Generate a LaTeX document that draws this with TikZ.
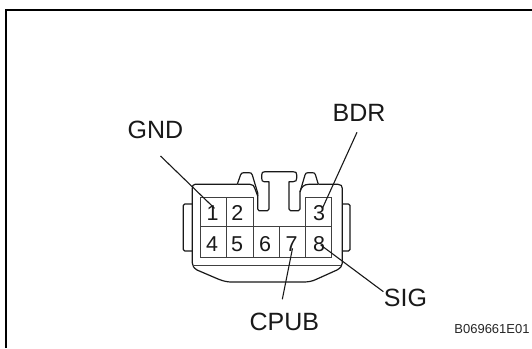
\documentclass[tikz,border=0pt]{standalone}
\usepackage{fontspec}
\setmainfont{Liberation Sans}
\tikzset{
  body/.style={draw=black!90,line width=1.2pt,line join=round},
  gridline/.style={draw=black!75,line width=0.8pt},
  leader/.style={draw=black!90,line width=1.1pt},
  sig/.style={font=\fontsize{25}{25}\selectfont,inner sep=0pt,text=black!90},
  pin/.style={font=\fontsize{21.5}{21.5}\selectfont,inner sep=0pt,text=black!90},
  code/.style={font=\fontsize{13}{13}\selectfont,inner sep=0pt,text=black!85}
}
\begin{document}
\begin{tikzpicture}[x=1pt,y=-1pt]
\useasboundingbox (0,0) rectangle (532,348);
\draw[black,line width=1.8pt] (6,348) -- (6,10) -- (532,10);
% tabs
\draw[body] (192.3,204) [rounded corners=1.5pt] -- (183.3,204) -- (183.3,251) -- (192.3,251);
\draw[body] (342.3,204) [rounded corners=1.5pt] -- (350,204) -- (350,251) -- (342.3,251);
% housing
\draw[body] (237.3,184.3) -- (195,184.3)
  .. controls (193,184.3) and (192.3,186) .. (192.3,188.3)
  -- (192.3,263)
  .. controls (192.3,266) and (194,268) .. (197,270)
  -- (218,279) .. controls (224,281.5) and (228,282) .. (232,282)
  -- (303,282) .. controls (308,282) and (312,281.5) .. (317,279)
  -- (337,270) .. controls (340.5,268) and (342.3,266) .. (342.3,263)
  -- (342.3,188.3) .. controls (342.3,186) and (341,184.3) .. (338,184.3)
  -- (318.3,184.3);
% lip
\draw[gridline] (194,265.7) -- (341,265.7);
% pin grid
\draw[gridline] (200.7,197.3) -- (253,197.3) -- (253,257);
\draw[gridline] (305.7,257) -- (305.7,197.3) -- (331.7,197.3) -- (331.7,257) -- (200.7,257) -- (200.7,197.3);
\draw[gridline] (200.7,226.3) -- (331.7,226.3);
\draw[gridline] (226.7,197.3) -- (226.7,257);
\draw[gridline] (279.3,226.3) -- (279.3,257);
% left hook, T slot, right hook
\draw[body,fill=white] (237.3,184.3) -- (240.5,175) .. controls (241.2,173.2) and (242,172.7) .. (244,172.7)
  -- (249,172.7) .. controls (251,172.7) and (251.7,173.2) .. (252.3,175)
  -- (257.7,193) -- (257.7,209) .. controls (257.7,210.3) and (258,210.7) .. (259,210.7)
  -- (267.5,210.7) .. controls (268.7,210.7) and (269,210.3) .. (269,209)
  -- (269,181.7) -- (264,181.7) .. controls (262.3,181.7) and (261.7,180.5) .. (261.7,178)
  -- (261.7,175) .. controls (261.7,172.5) and (262.5,171.7) .. (265,171.7)
  -- (293,171.7) .. controls (296,171.7) and (296.7,172.5) .. (296.7,175)
  -- (296.7,178) .. controls (296.7,180.5) and (296,181.7) .. (293,181.7)
  -- (289,181.7) -- (289,209) .. controls (289,210.3) and (289.3,210.7) .. (290.5,210.7)
  -- (298.5,210.7) .. controls (299.7,210.7) and (300,210.3) .. (300,209)
  -- (300,192) -- (305,175) .. controls (305.6,173.2) and (306.3,172.7) .. (308,172.7)
  -- (312.5,172.7) .. controls (314.3,172.7) and (315,173.2) .. (315.5,175)
  -- (318.3,184.3);
\draw[body] (300,192) .. controls (301,187) and (304,184.3) .. (309,184.3) -- (318.3,184.3);
\draw[body] (237.3,184.3) -- (250,184.3) .. controls (253,184.3) and (254,186) .. (254.7,188) -- (257.7,196);
% pins
\node[pin] (p1) at (212.7,213) {1};
\node[pin] (p2) at (237.3,213) {2};
\node[pin] (p3) at (319,213) {3};
\node[pin] (p4) at (212,244) {4};
\node[pin] (p5) at (237,244) {5};
\node[pin] (p6) at (265,244) {6};
\node[pin] (p7) at (291.7,244) {7};
\node[pin] (p8) at (319,244) {8};
% labels
\node[sig] (gnd) at (155.4,130) {GND};
\node[sig] (bdr) at (359,112.7) {BDR};
\node[sig] (sigl) at (405.5,297.7) {SIG};
\node[sig] (cpub) at (284.4,321.7) {CPUB};
\node[code] (ref) at (492,329.3) {B069661E01};
% leader ends
\coordinate (gndA) at (160.5,156);
\coordinate (gndB) at (214.5,208.3);
\coordinate (bdrA) at (357,132.3);
\coordinate (bdrB) at (322.4,208.3);
\coordinate (sigA) at (383.4,291.7);
\coordinate (sigB) at (320.7,245);
\coordinate (cpubA) at (282.3,299.3);
\coordinate (cpubB) at (292.5,248.3);
\draw[leader] (gndA) -- (gndB);
\draw[leader] (bdrA) -- (bdrB);
\draw[leader] (sigA) -- (sigB);
\draw[leader] (cpubA) -- (cpubB);
\end{tikzpicture}
\end{document}
